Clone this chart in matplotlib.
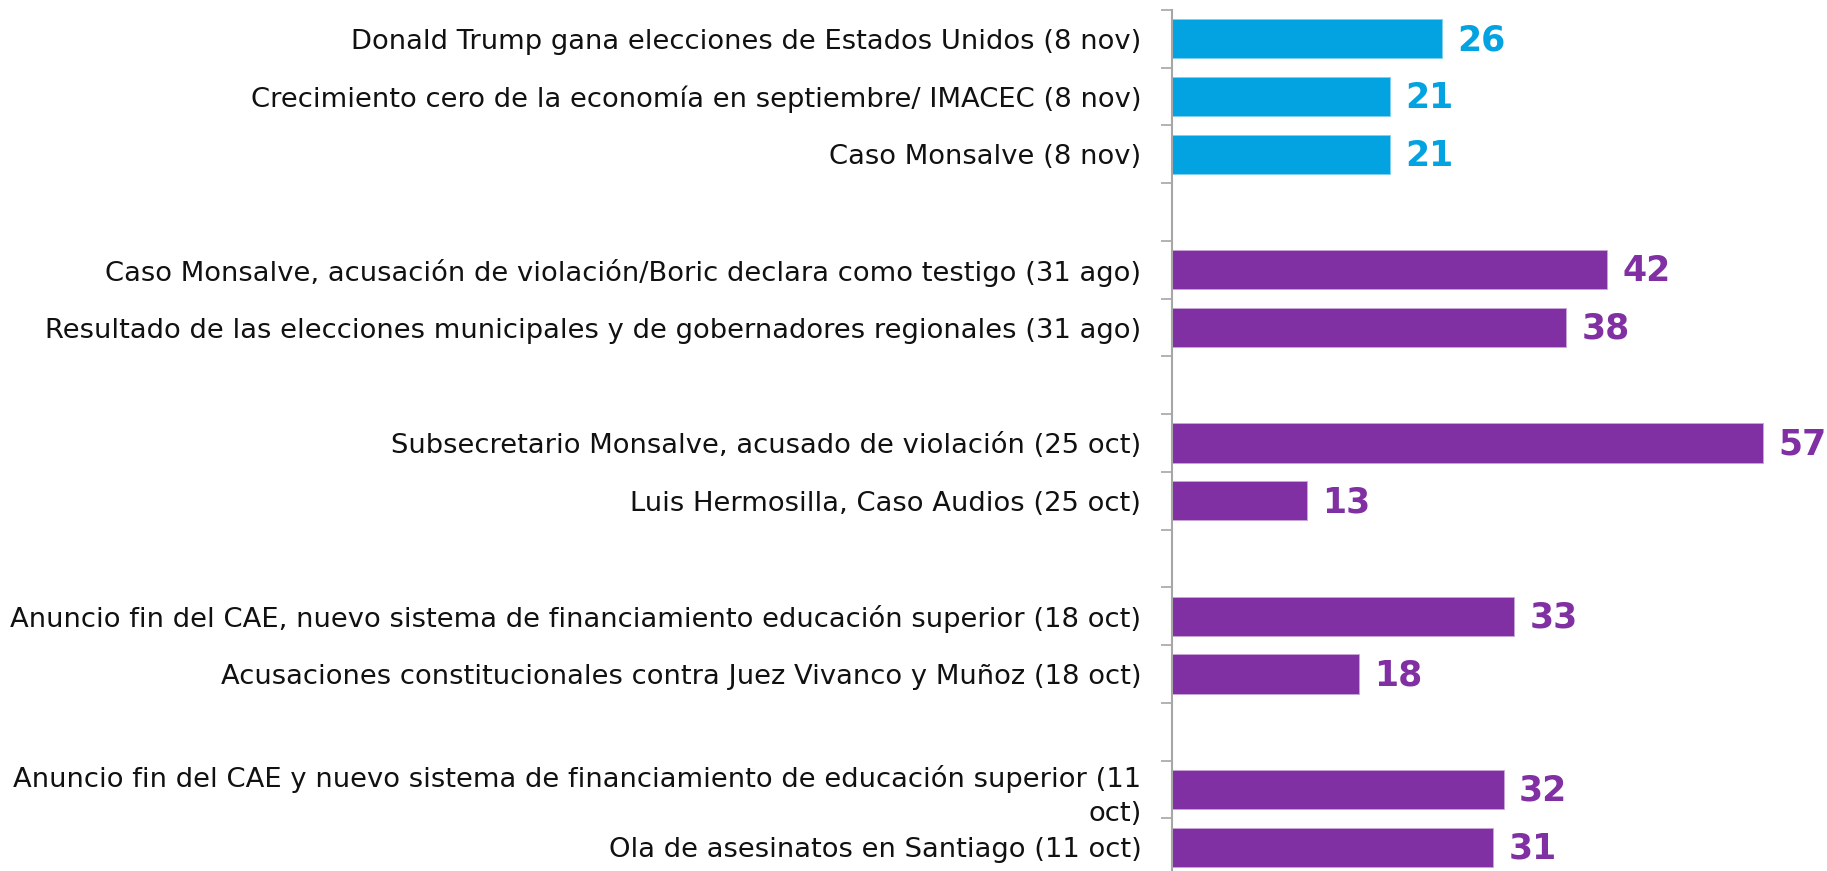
import matplotlib.pyplot as plt
import numpy as np

# categories top to bottom, '' = empty spacer row
labels = [
    'Donald Trump gana elecciones de Estados Unidos (8 nov)',
    'Crecimiento cero de la economía en septiembre/ IMACEC (8 nov)',
    'Caso Monsalve (8 nov)',
    '',
    'Caso Monsalve, acusación de violación/Boric declara como testigo (31 ago)',
    'Resultado de las elecciones municipales y de gobernadores regionales (31 ago)',
    '',
    'Subsecretario Monsalve, acusado de violación (25 oct)',
    'Luis Hermosilla, Caso Audios (25 oct)',
    '',
    'Anuncio fin del CAE, nuevo sistema de financiamiento educación superior (18 oct)',
    'Acusaciones constitucionales contra Juez Vivanco y Muñoz (18 oct)',
    '',
    'Anuncio fin del CAE y nuevo sistema de financiamiento de educación superior (11\noct)',
    'Ola de asesinatos en Santiago (11 oct)',
]
values = [26, 21, 21, None, 42, 38, None, 57, 13, None, 33, 18, None, 32, 31]
groups = ['new', 'new', 'new', None, 'old', 'old', None, 'old', 'old', None,
          'old', 'old', None, 'old', 'old']

colors = {'new': '#03A2E1', 'old': '#8030A3'}

fig = plt.figure(figsize=(18.27, 8.71), dpi=100)
ax = fig.add_axes([1172 / 1827, -5 / 871, 622 / 1827, 866 / 871])

y = np.arange(len(labels))
for i, v in enumerate(values):
    if v is None:
        continue
    c = colors[groups[i]]
    ax.barh(y[i], v, height=0.68, color=c, edgecolor='#C9A6D8' if groups[i] == 'old' else '#7FD0F0',
            linewidth=0.6)
    ax.annotate(str(v), (v, y[i]), xytext=(11, -1), textcoords='offset points',
                va='center', ha='left', color=c, fontsize=25, fontweight='bold',
                family='DejaVu Sans')

ax.set_ylim(len(labels) - 0.5, -0.5)
ax.set_xlim(0, 60)

ax.set_yticks(y)
ax.set_yticklabels(labels, fontsize=19.7, family='DejaVu Sans', color='#111111', linespacing=1.4)
ax.set_yticks(np.arange(-0.5, len(labels) - 0.5, 1), minor=True)
ax.tick_params(axis='y', which='major', length=0, pad=22)
ax.tick_params(axis='y', which='minor', length=8, width=1.2, color='#A6A6A6')

ax.set_xticks([])
for s in ['top', 'right', 'bottom']:
    ax.spines[s].set_visible(False)
ax.spines['left'].set_color('#A6A6A6')
ax.spines['left'].set_linewidth(1.5)

fig.savefig('out.png', dpi=100)
